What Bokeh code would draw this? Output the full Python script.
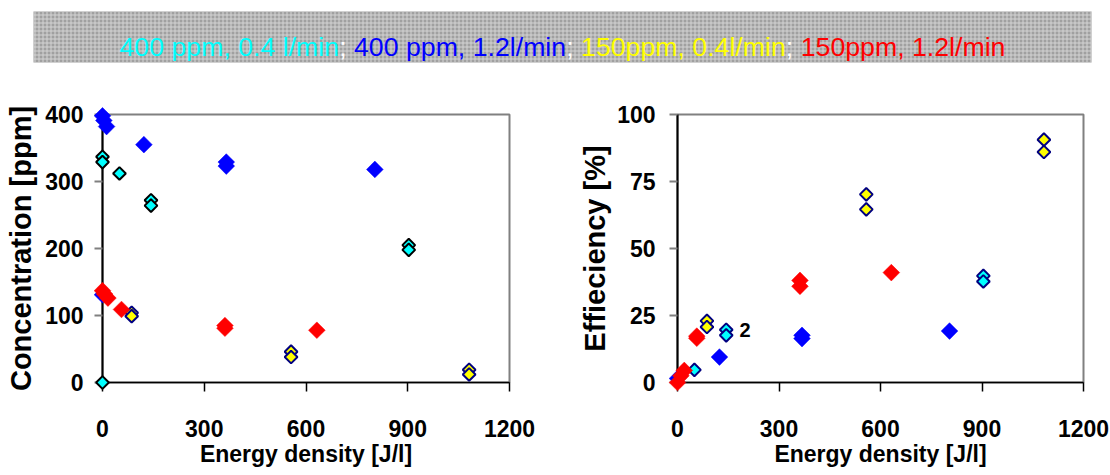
import numpy as np
from bokeh.plotting import figure
from bokeh.layouts import column, row
from bokeh.models import Range1d, FixedTicker
from bokeh.embed import file_html
from bokeh.resources import INLINE
from bokeh.core.properties import value

# ---------------- data ----------------
series_labels = ["400 ppm, 0.4 l/min", "400 ppm, 1.2l/min", "150ppm, 0.4l/min", "150ppm, 1.2l/min"]
series_colors = ["#00FFFF", "#0000FF", "#FFFF00", "#FF0000"]

x_ticks = [0, 300, 600, 900, 1200]
conc_ticks = [0, 100, 200, 300, 400]
eff_ticks = [0, 25, 50, 75, 100]

# Concentration [ppm] vs energy density [J/l]
cyan_x_c = [0, 0, 0, 50, 143, 143, 903, 903]
cyan_y_c = [337, 329, 0, 312, 272, 264, 205, 198]
blue_x_c = [0, 4, 12, 0, 122, 365, 365, 803]
blue_y_c = [398, 391, 382, 131, 355, 329, 323, 318]
yellow_x_c = [86, 86, 556, 556, 1081, 1081]
yellow_y_c = [104, 99, 46, 38, 19, 12]
red_x_c = [0, 6, 16, 56, 361, 361, 632]
red_y_c = [137, 132, 126, 109, 85, 81, 78]

# Efficiency [%] vs energy density [J/l]
cyan_x_e = [50, 144, 144, 904, 904]
cyan_y_e = [4.7, 19.7, 17.6, 39.8, 37.7]
blue_x_e = [0, 124, 368, 368, 804]
blue_y_e = [1.5, 9.5, 17.6, 16.4, 19.2]
yellow_x_e = [87, 87, 558, 558, 1083, 1083]
yellow_y_e = [23.0, 20.7, 70.2, 64.6, 90.6, 86.0]
red_x_e = [0, 10, 20, 57, 57, 362, 362, 632]
red_y_e = [0.0, 2.5, 4.5, 17.3, 16.5, 38.1, 35.9, 41.0]

note_text = "2"
note_x, note_y = 183, 19.5

# ---------------- styles ----------------
FONT = "Liberation Sans"
NAVY = "#000080"


def style_axes(p, ylabel, yticks, y_std, y_lab_std):
    p.xgrid.visible = False
    p.ygrid.visible = False
    p.outline_line_color = "#808080"
    p.outline_line_width = 2
    xa = p.xaxis[0]
    ya = p.yaxis[0]
    xa.ticker = FixedTicker(ticks=x_ticks)
    ya.ticker = FixedTicker(ticks=yticks)
    for a in (xa, ya):
        a.minor_tick_line_color = None
        a.major_tick_in = 0
        a.axis_line_color = "black"
        a.major_label_text_font = FONT
        a.major_label_text_font_style = "bold"
        a.major_label_text_font_size = "23px"
        a.major_label_text_color = "black"
        a.axis_label_text_font = FONT
        a.axis_label_text_font_style = "bold"
        a.axis_label_text_color = "black"
    ya.axis_line_width = 2
    ya.major_tick_out = 8
    ya.major_tick_line_color = "#808080"
    ya.major_tick_line_width = 2
    ya.major_label_standoff = y_std
    ya.axis_label = ylabel
    ya.axis_label_text_font_size = "29px"
    ya.axis_label_standoff = y_lab_std
    xa.axis_line_width = 1.5
    xa.major_tick_out = 9
    xa.major_tick_line_color = "black"
    xa.major_tick_line_width = 1.5
    xa.major_label_standoff = 28
    xa.axis_label = "Energy density [J/l]"
    xa.axis_label_text_font_size = "23px"
    xa.axis_label_standoff = 1


def add_points(p, xs, ys, fill, line):
    if line is None:
        p.scatter(xs, ys, marker="square", angle=np.pi / 4, size=11.8,
                  fill_color=fill, line_color=fill, line_width=0.5, level="overlay")
    else:
        p.scatter(xs, ys, marker="square", angle=np.pi / 4, size=9,
                  fill_color=fill, line_color=line, line_width=2, level="overlay")


# ---------------- banner ----------------
CW = {" ": 278, "p": 556, "m": 833, ",": 278, ".": 278, "l": 222, "/": 278,
      "i": 222, "n": 556, ";": 278}
for d in "0123456789":
    CW[d] = 556


def text_width(s, fs):
    return sum(CW[c] for c in s) / 1000.0 * fs


banner = figure(width=1110, height=88, output_backend="svg", toolbar_location=None,
                x_range=Range1d(0, 1110), y_range=Range1d(88, 0),
                x_axis_location=None, y_axis_location=None, min_border=0)
banner.xgrid.visible = False
banner.ygrid.visible = False
banner.outline_line_color = None
banner.quad(left=[33], right=[1091], top=[11], bottom=[62], fill_color="#a0a0a0",
            line_color=None, hatch_pattern="+", hatch_color="#d4d4d4",
            hatch_scale=4, hatch_weight=1)
FS = 26.7
sep = "; "
total = sum(text_width(s, FS) for s in series_labels) + 3 * text_width(sep, FS)
xpos = 562 - total / 2.0
for i, (lab, col) in enumerate(zip(series_labels, series_colors)):
    banner.text(x=[xpos], y=[46], text=[lab], text_color=col,
                text_font=value(FONT), text_font_size=f"{FS}px",
                text_baseline="alphabetic", text_align="left")
    xpos += text_width(lab, FS)
    if i < 3:
        banner.text(x=[xpos], y=[46], text=[sep], text_color="white",
                    text_font=value(FONT), text_font_size=f"{FS}px",
                    text_baseline="alphabetic", text_align="left")
        xpos += text_width(sep, FS)

# ---------------- left: concentration ----------------
p1 = figure(width=560, height=387, output_backend="svg", toolbar_location=None,
            x_range=Range1d(0, 1200), y_range=Range1d(0, 400),
            min_border_left=102, min_border_right=51, min_border_top=24,
            min_border_bottom=93)
style_axes(p1, "Concentration [ppm]", conc_ticks, 11, 5)
add_points(p1, cyan_x_c, cyan_y_c, series_colors[0], "black")
add_points(p1, blue_x_c, blue_y_c, series_colors[1], None)
add_points(p1, yellow_x_c, yellow_y_c, series_colors[2], NAVY)
add_points(p1, red_x_c, red_y_c, series_colors[3], None)

# ---------------- right: efficiency ----------------
p2 = figure(width=550, height=387, output_backend="svg", toolbar_location=None,
            x_range=Range1d(0, 1200), y_range=Range1d(0, 100),
            min_border_left=117, min_border_right=27, min_border_top=26,
            min_border_bottom=93)
style_axes(p2, "Effieciency [%]", eff_ticks, 14, 3)
add_points(p2, cyan_x_e, cyan_y_e, series_colors[0], NAVY)
add_points(p2, blue_x_e, blue_y_e, series_colors[1], None)
add_points(p2, yellow_x_e, yellow_y_e, series_colors[2], NAVY)
add_points(p2, red_x_e, red_y_e, series_colors[3], None)
p2.text(x=[note_x], y=[note_y], text=[note_text], text_color="black",
        text_font=value(FONT), text_font_style="bold", text_font_size="20px",
        text_baseline="middle", text_align="left")

layout = column(banner, row(p1, p2))
open("out.html", "w").write(file_html(layout, INLINE))
